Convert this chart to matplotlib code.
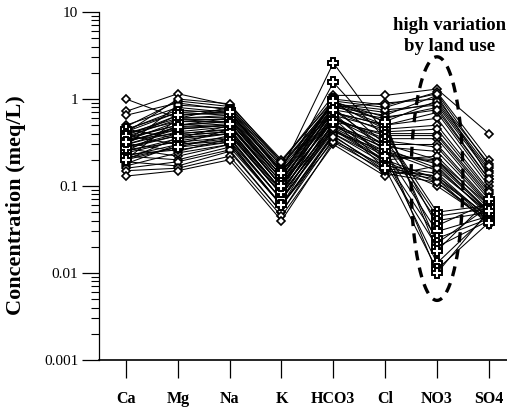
import numpy as np
import matplotlib.pyplot as plt
from matplotlib.ticker import LogLocator, NullFormatter, FixedLocator

ions = ['Ca', 'Mg', 'Na', 'K', 'HCO3', 'Cl', 'NO3', 'SO4']

# samples plotted with diamonds (meq/L)
dia_ca = [1.0, 0.72, 0.65, 0.5, 0.45, 0.42, 0.4, 0.38, 0.36, 0.35, 0.33, 0.31, 0.3,
          0.28, 0.27, 0.25, 0.24, 0.22, 0.21, 0.2, 0.19, 0.18, 0.17, 0.16, 0.15, 0.13,
          0.48, 0.44, 0.37, 0.34, 0.29, 0.26, 0.23, 0.32, 0.41, 0.2]
dia_mg = [0.6, 1.15, 0.9, 0.8, 0.35, 0.7, 0.55, 0.3, 0.5, 0.65, 0.45, 0.25, 0.42,
          0.38, 0.22, 0.5, 0.33, 0.2, 0.28, 0.6, 0.17, 0.3, 0.24, 0.19, 0.16, 0.15,
          0.95, 0.75, 0.58, 0.4, 0.85, 0.32, 0.26, 0.47, 1.0, 0.36]
dia_na = [0.8, 0.85, 0.75, 0.7, 0.5, 0.65, 0.6, 0.45, 0.55, 0.72, 0.5, 0.35, 0.48,
          0.42, 0.3, 0.55, 0.4, 0.28, 0.38, 0.62, 0.25, 0.33, 0.3, 0.26, 0.22, 0.2,
          0.82, 0.68, 0.58, 0.44, 0.78, 0.36, 0.32, 0.5, 0.88, 0.4]
dia_k = [0.19, 0.2, 0.17, 0.16, 0.1, 0.15, 0.13, 0.09, 0.12, 0.14, 0.11, 0.07, 0.1,
         0.09, 0.06, 0.12, 0.08, 0.06, 0.08, 0.13, 0.05, 0.07, 0.06, 0.05, 0.045, 0.04,
         0.18, 0.15, 0.12, 0.09, 0.17, 0.07, 0.06, 0.1, 0.19, 0.08]
dia_hco3 = [1.1, 0.95, 0.85, 0.8, 0.6, 0.75, 0.7, 0.5, 0.65, 0.9, 0.55, 0.45, 0.6,
            0.5, 0.4, 0.7, 0.48, 0.38, 0.45, 0.8, 0.35, 0.42, 0.33, 0.4, 0.3, 0.32,
            0.88, 0.72, 0.62, 0.52, 0.92, 0.44, 0.37, 0.58, 1.0, 0.47]
dia_cl = [1.1, 0.8, 0.7, 0.9, 0.3, 0.6, 0.5, 0.25, 0.45, 0.55, 0.4, 0.2, 0.35,
          0.3, 0.18, 0.5, 0.28, 0.15, 0.22, 0.65, 0.14, 0.25, 0.17, 0.2, 0.13, 0.15,
          0.75, 0.42, 0.33, 0.27, 0.62, 0.19, 0.16, 0.38, 0.85, 0.23]
dia_no3 = [1.3, 1.2, 0.9, 1.0, 0.2, 0.8, 0.6, 0.15, 0.5, 0.95, 0.4, 0.12, 0.35,
           0.3, 0.1, 0.7, 0.25, 0.13, 0.2, 1.1, 0.11, 0.18, 0.14, 0.22, 0.17, 0.12,
           0.85, 0.45, 0.28, 0.16, 0.75, 0.11, 0.13, 0.38, 1.15, 0.19]
dia_so4 = [0.4, 0.2, 0.15, 0.18, 0.06, 0.12, 0.1, 0.05, 0.09, 0.16, 0.08, 0.045, 0.07,
           0.065, 0.04, 0.11, 0.06, 0.04, 0.05, 0.13, 0.038, 0.05, 0.042, 0.055, 0.045, 0.036,
           0.14, 0.085, 0.062, 0.048, 0.12, 0.041, 0.044, 0.075, 0.17, 0.052]

# samples plotted with crosses (low nitrate)
crs_ca = [0.45, 0.35, 0.3, 0.4, 0.28, 0.25, 0.33, 0.22, 0.38, 0.27, 0.2, 0.32]
crs_mg = [0.7, 0.5, 0.45, 0.6, 0.4, 0.35, 0.55, 0.3, 0.65, 0.38, 0.28, 0.48]
crs_na = [0.75, 0.6, 0.5, 0.65, 0.45, 0.4, 0.55, 0.35, 0.7, 0.42, 0.32, 0.52]
crs_k = [0.15, 0.12, 0.1, 0.13, 0.09, 0.08, 0.11, 0.07, 0.14, 0.085, 0.06, 0.1]
crs_hco3 = [2.6, 1.55, 1.0, 0.9, 0.8, 0.7, 0.85, 0.6, 0.95, 0.65, 0.55, 0.75]
crs_cl = [0.4, 0.35, 0.3, 0.45, 0.25, 0.2, 0.5, 0.18, 0.55, 0.22, 0.16, 0.28]
crs_no3 = [0.05, 0.045, 0.04, 0.035, 0.03, 0.025, 0.022, 0.02, 0.018, 0.013, 0.011, 0.01]
crs_so4 = [0.06, 0.055, 0.05, 0.065, 0.045, 0.042, 0.058, 0.04, 0.07, 0.048, 0.038, 0.052]

dia = np.array([dia_ca, dia_mg, dia_na, dia_k, dia_hco3, dia_cl, dia_no3, dia_so4]).T
crs = np.array([crs_ca, crs_mg, crs_na, crs_k, crs_hco3, crs_cl, crs_no3, crs_so4]).T

plt.rcParams['font.family'] = ['Liberation Serif', 'DejaVu Serif']

fig = plt.figure(figsize=(5.07, 4.07), dpi=100)
ax = fig.add_axes([99 / 507, 1 - 360 / 407, 1 - 99 / 507, (360 - 12) / 407])

x = np.arange(len(ions))
for row in dia:
    ax.plot(x, row, color='black', lw=0.75, marker='D', ms=4.5,
            mfc='white', mec='black', mew=1.2, clip_on=False)
for row in crs:
    ax.plot(x, row, color='black', lw=0.75, marker='P', ms=7.5,
            mfc='white', mec='black', mew=1.4, clip_on=False)

ax.set_yscale('log')
ax.set_ylim(0.001, 10)
ax.set_xlim(-0.52, 7.35)

ax.yaxis.set_major_locator(FixedLocator([0.001, 0.01, 0.1, 1, 10]))
ax.set_yticklabels(['0.001', '0.01', '0.1', '1', '10'])
ax.yaxis.set_minor_locator(LogLocator(base=10, subs=np.arange(2, 10)))
ax.yaxis.set_minor_formatter(NullFormatter())
ax.tick_params(axis='y', which='major', length=12, width=0.9, labelsize=11, pad=3)
ax.tick_params(axis='y', which='minor', length=6, width=0.8)

ax.set_xticks(x)
ax.set_xticklabels(ions, fontweight='bold', fontsize=11.5)
ax.tick_params(axis='x', length=13, width=0.9, pad=9)

ax.spines['top'].set_visible(False)
ax.spines['right'].set_visible(False)
ax.spines['left'].set_linewidth(0.9)
ax.spines['bottom'].set_linewidth(1.2)

ax.set_ylabel('Concentration (meq/L)', fontsize=16, fontweight='bold')
ax.yaxis.set_label_coords(-0.178, 0.445)

# dashed ellipse around the nitrate column (drawn in log space)
t = np.linspace(0, 2 * np.pi, 200)
ex = 6.0 + 0.5 * np.cos(t)
ey = 10 ** (-0.915 + 1.40 * np.sin(t))
ax.plot(ex, ey, color='black', lw=2.4, ls=(0, (3, 2.2)), clip_on=False)

ax.text(6.25, 5.3, 'high variation\nby land use', ha='center', va='center',
        fontsize=13.5, fontweight='bold', linespacing=1.3)

fig.savefig('out.png', dpi=100)
